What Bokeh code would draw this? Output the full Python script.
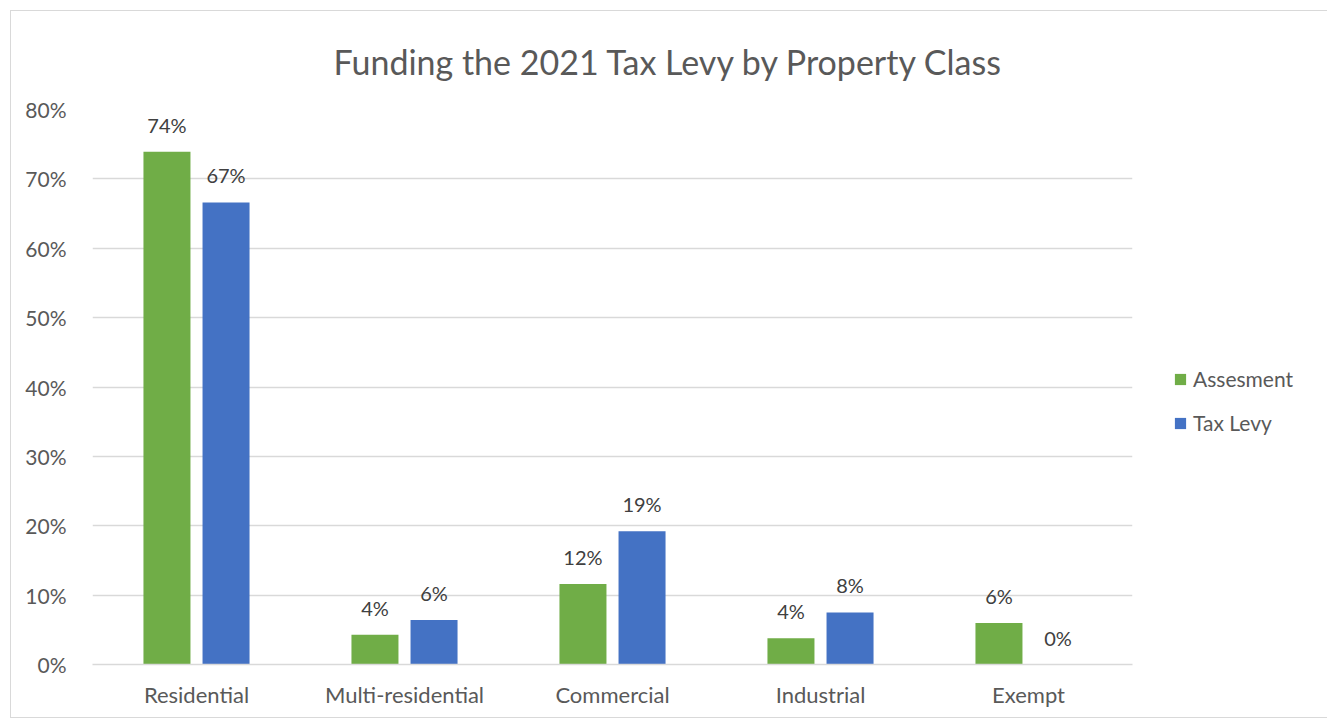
from bokeh.plotting import figure
from bokeh.models import ColumnDataSource, Legend, LegendItem, FactorRange, Range1d, FixedTicker
from bokeh.transform import dodge
from bokeh.core.properties import value
from bokeh.embed import file_html
from bokeh.resources import INLINE

categories = ["Residential", "Multi-residential", "Commercial", "Industrial", "Exempt"]
assessment = [73.9, 4.3, 11.6, 3.8, 6.0]
tax_levy = [66.6, 6.4, 19.2, 7.5, 0.0]
assessment_labels = ["74%", "4%", "12%", "4%", "6%"]
tax_levy_labels = ["67%", "6%", "19%", "8%", "0%"]
y_ticks = [0, 10, 20, 30, 40, 50, 60, 70, 80]
y_tick_labels = ["0%", "10%", "20%", "30%", "40%", "50%", "60%", "70%", "80%"]
series_names = ["Assesment", "Tax Levy"]
title_text = "Funding the 2021 Tax Levy by Property Class"

GREEN = "#70AD47"
BLUE = "#4472C4"
GRID = "#D9D9D9"
TEXT = "#595959"
LABEL = "#404040"
FONT = "Lato"

src = ColumnDataSource(dict(cat=categories, a=assessment, t=tax_levy,
                            al=assessment_labels, tl=tax_levy_labels))

p = figure(x_range=FactorRange(*categories, range_padding=0), y_range=Range1d(0, 80),
           output_backend="svg", toolbar_location=None,
           width=1309, height=706,
           frame_width=1040, frame_height=555,
           min_border_left=81, min_border_right=188, min_border_top=98, min_border_bottom=53)
p.styles = {"border": "1px solid #D9D9D9", "margin": "10px 0 0 10px"}

p.background_fill_color = "white"
p.border_fill_color = "white"
p.outline_line_color = None

# title
p.title.text = title_text
p.title.align = "left"
p.title.offset = 241
p.title.standoff = 55
p.title.text_font = FONT
p.title.text_font_size = "34px"
p.title.text_font_style = "normal"
p.title.text_color = TEXT

off = 0.142
bw = 0.226
r1 = p.vbar(x=dodge("cat", -off, range=p.x_range), top="a", width=bw, source=src, color=GREEN, line_color=None)
r2 = p.vbar(x=dodge("cat", off, range=p.x_range), top="t", width=bw, source=src, color=BLUE, line_color=None)

p.text(x=dodge("cat", -off, range=p.x_range), y="a", text="al", source=src,
       text_align="center", text_baseline="alphabetic", y_offset=-27,
       text_font=value(FONT), text_font_size="20px", text_color=LABEL)
p.text(x=dodge("cat", off, range=p.x_range), y="t", text="tl", source=src,
       text_align="center", text_baseline="alphabetic", y_offset=-27,
       text_font=value(FONT), text_font_size="20px", text_color=LABEL)

# axes
p.xaxis.axis_line_color = GRID
p.xaxis.axis_line_width = 1.3
p.xaxis.major_tick_line_color = None
p.xaxis.minor_tick_line_color = None
p.xaxis.major_label_text_font = FONT
p.xaxis.major_label_text_font_size = "22px"
p.xaxis.major_label_text_color = TEXT
p.xaxis.major_label_standoff = 10
p.xgrid.grid_line_color = None

p.yaxis.ticker = FixedTicker(ticks=y_ticks)
p.yaxis.major_label_overrides = {t: l for t, l in zip(y_ticks, y_tick_labels)}
p.yaxis.axis_line_color = None
p.yaxis.major_tick_line_color = None
p.yaxis.minor_tick_line_color = None
p.yaxis.major_label_text_font = FONT
p.yaxis.major_label_text_font_size = "21px"
p.yaxis.major_label_text_color = TEXT
p.yaxis.major_label_standoff = 20
p.ygrid.grid_line_color = GRID
p.ygrid.grid_line_width = 1.3

legend = Legend(items=[LegendItem(label=series_names[0], renderers=[r1]),
                       LegendItem(label=series_names[1], renderers=[r2])],
                location=(41, 229), orientation="vertical",
                glyph_width=14, glyph_height=14, label_height=20, spacing=19,
                label_standoff=6, padding=0, margin=0,
                border_line_color=None, background_fill_alpha=0,
                label_text_font=FONT, label_text_font_size="21px", label_text_color=TEXT)
p.add_layout(legend, "right")

open("out.html", "w").write(file_html(p, INLINE))
